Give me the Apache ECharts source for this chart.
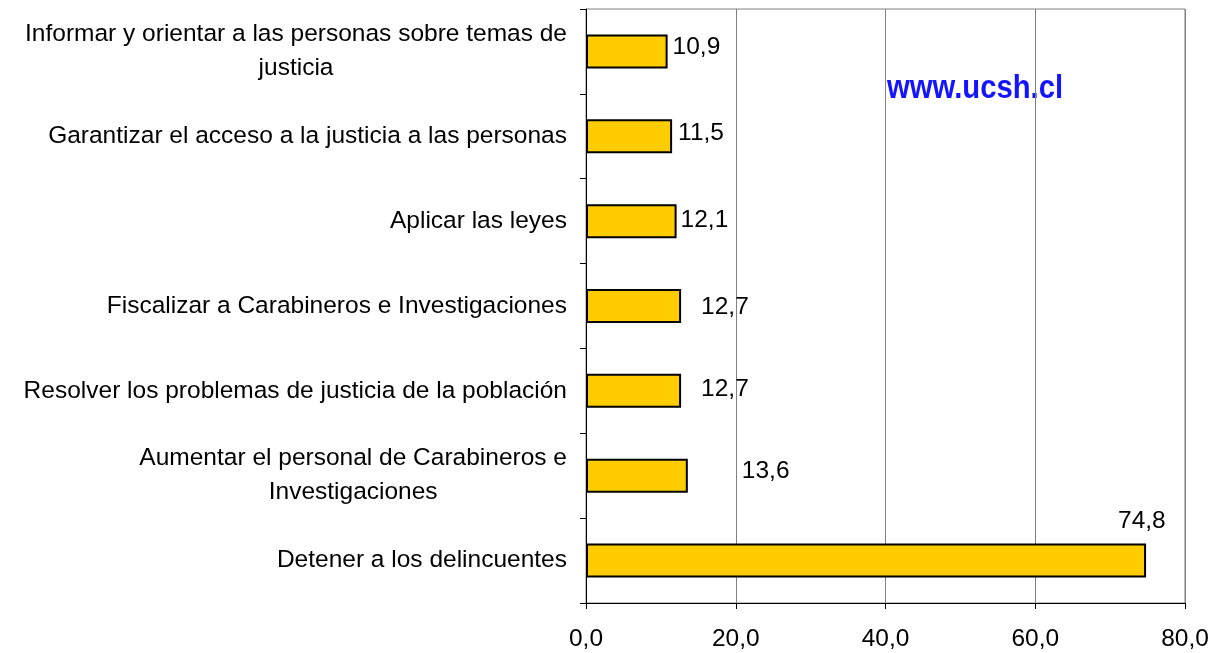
<!DOCTYPE html>
<html>
<head>
<meta charset="utf-8">
<script src="https://cdn.jsdelivr.net/npm/echarts@6/dist/echarts.min.js"></script>
<style>
  html, body { margin: 0; padding: 0; background: #fff; }
  #chart { width: 1221px; height: 653px; }
</style>
</head>
<body>
<div id="chart"></div>
<script>
// categorias de abajo hacia arriba (el eje de categorias empieza abajo)
const categories = [
  'Detener a los delincuentes',
  'Aumentar el personal de Carabineros e\nInvestigaciones',
  'Resolver los problemas de justicia de la población',
  'Fiscalizar a Carabineros e Investigaciones',
  'Aplicar las leyes',
  'Garantizar el acceso a la justicia a las personas',
  'Informar y orientar a las personas sobre temas de\njusticia'
]
const values = [74.8, 13.6, 12.7, 12.7, 12.1, 11.5, 10.9]
const xTicks = [0, 20, 40, 60, 80]

// desplazamiento de las etiquetas de valor (como quedaron en el original)
const labelNudge = [[-33, -39], [49, -4], [15, -2], [15, 1], [-1, -1], [1, -3], [0, -4]]

const fmt = v => v.toFixed(1).replace('.', ',')
const font = '"Liberation Sans", Arial, sans-serif'
const fs = 24.5

const chart = echarts.init(document.getElementById('chart'))

chart.setOption({
  animation: false,
  grid: {
    left: 586,
    right: 36,
    top: 9,
    bottom: 50,
    show: true,
    borderColor: '#808080',
    borderWidth: 1
  },
  xAxis: {
    type: 'value',
    min: xTicks[0],
    max: xTicks[xTicks.length - 1],
    interval: 20,
    axisLine: { show: true, lineStyle: { color: '#000', width: 1 } },
    axisTick: { show: true, length: 6, lineStyle: { color: '#000' } },
    splitLine: { show: true, lineStyle: { color: '#808080', width: 1 } },
    axisLabel: {
      formatter: fmt,
      color: '#000',
      fontFamily: font,
      fontSize: fs,
      margin: 24
    }
  },
  yAxis: {
    type: 'category',
    data: categories,
    axisLine: { show: true, lineStyle: { color: '#000', width: 1 } },
    axisTick: { show: true, length: 6, lineStyle: { color: '#000' } },
    axisLabel: {
      margin: 19,
      color: '#000',
      fontFamily: font,
      fontSize: fs,
      lineHeight: 34,
      formatter: v => '{c|' + v + '}',
      rich: {
        c: { align: 'center', fontFamily: font, fontSize: fs, lineHeight: 34, color: '#000' }
      }
    }
  },
  series: [{
    type: 'bar',
    data: values.map((v, i) => ({
      value: v,
      label: { offset: labelNudge[i] }
    })),
    barWidth: 34,
    itemStyle: {
      color: '#ffcc00',
      borderColor: '#000',
      borderWidth: 2
    },
    label: {
      show: true,
      position: 'right',
      distance: 5,
      formatter: p => fmt(p.value),
      color: '#000',
      fontFamily: font,
      fontSize: fs
    }
  }],
  graphic: [{
    type: 'text',
    x: 887,
    y: 72,
    scaleX: 0.86,
    style: {
      text: 'www.ucsh.cl',
      fill: '#1414ff',
      font: 'bold 34px ' + font,
      align: 'left',
      verticalAlign: 'top'
    }
  }]
})
</script>
</body>
</html>
